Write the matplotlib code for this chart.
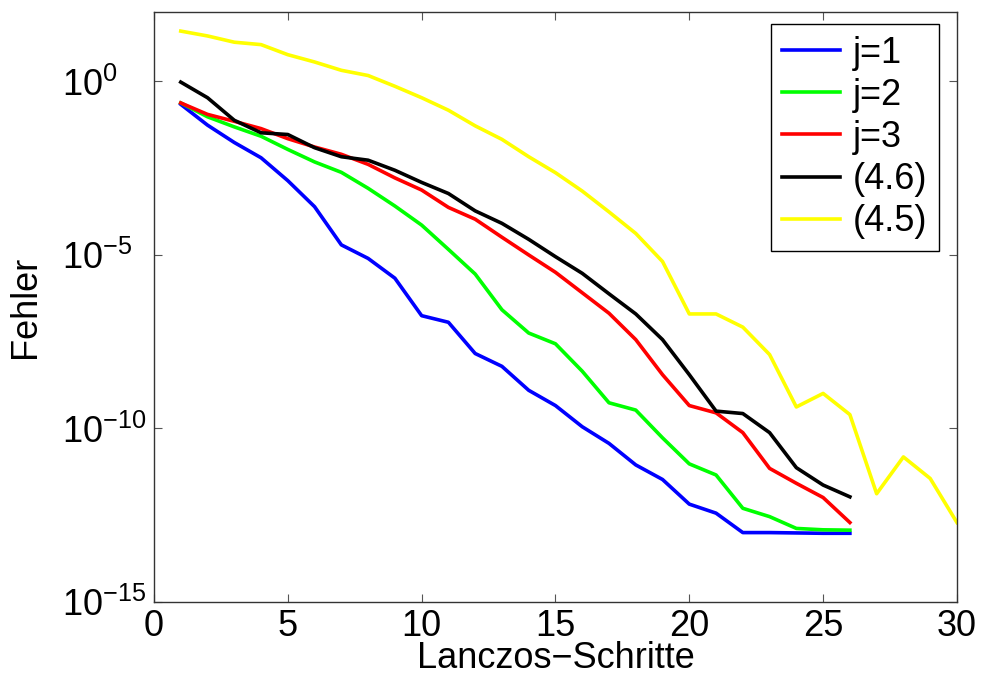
import matplotlib
matplotlib.use("Agg")
import matplotlib.pyplot as plt
import numpy as np
from matplotlib.ticker import LogFormatterMathtext, FixedLocator, NullLocator

plt.rcParams["font.family"] = ["Liberation Sans", "DejaVu Sans"]
plt.rcParams["mathtext.fontset"] = "custom"
plt.rcParams["mathtext.rm"] = "Liberation Sans"
plt.rcParams["mathtext.it"] = "Liberation Sans"

# log10 of the error
steps_26 = np.arange(1, 27)
steps_30 = np.arange(1, 31)

log_j1 = [-0.66, -1.26, -1.76, -2.20, -2.86, -3.61, -4.71, -5.10, -5.67, -6.75,
          -6.94, -7.84, -8.21, -8.90, -9.34, -9.95, -10.43, -11.05, -11.47, -12.18,
          -12.44, -13.00, -13.00, -13.01, -13.02, -13.02]
log_j2 = [-0.62, -1.02, -1.31, -1.58, -1.96, -2.32, -2.62, -3.08, -3.59, -4.14,
          -4.84, -5.55, -6.58, -7.25, -7.56, -8.35, -9.26, -9.47, -10.27, -11.02,
          -11.34, -12.30, -12.54, -12.88, -12.92, -12.93]
log_j3 = [-0.62, -0.95, -1.15, -1.36, -1.65, -1.89, -2.10, -2.39, -2.78, -3.13,
          -3.63, -3.97, -4.49, -5.00, -5.50, -6.09, -6.68, -7.44, -8.45, -9.34,
          -9.55, -10.12, -11.15, -11.58, -11.99, -12.71]
log_46 = [-0.02, -0.47, -1.12, -1.48, -1.53, -1.91, -2.17, -2.27, -2.56, -2.91,
          -3.23, -3.73, -4.09, -4.55, -5.05, -5.53, -6.12, -6.70, -7.44, -8.45,
          -9.50, -9.57, -10.12, -11.13, -11.63, -11.97]
log_45 = [1.45, 1.31, 1.13, 1.06, 0.77, 0.56, 0.32, 0.17, -0.14, -0.47,
          -0.83, -1.28, -1.67, -2.17, -2.63, -3.16, -3.76, -4.38, -5.19, -6.70,
          -6.70, -7.08, -7.87, -9.38, -8.99, -9.60, -11.88, -10.82, -11.44, -12.71]

series = [
    (steps_26, log_j1, "#0000ff", "j=1"),
    (steps_26, log_j2, "#00ff00", "j=2"),
    (steps_26, log_j3, "#ff0000", "j=3"),
    (steps_26, log_46, "#000000", "(4.6)"),
    (steps_30, log_45, "#ffff00", "(4.5)"),
]

FS = 26


def main():
    fig = plt.figure(figsize=(9.84, 6.82), dpi=100)
    ax = fig.add_axes([0.1565, 0.1173, 0.816, 0.8651])

    for x, logs, color, label in series:
        ax.semilogy(x, 10.0 ** np.array(logs), color=color, lw=2.6, label=label)

    ax.set_xlim(0, 30)
    ax.set_ylim(1e-15, 1e2)
    ax.set_xticks(np.arange(0, 31, 5))
    ax.yaxis.set_major_locator(FixedLocator([1e-15, 1e-10, 1e-5, 1e0]))
    ax.yaxis.set_major_formatter(LogFormatterMathtext())
    ax.yaxis.set_minor_locator(NullLocator())

    ax.tick_params(direction="in", top=True, right=True, labelsize=FS,
                   length=6, width=0.8, color="#555555")
    ax.tick_params(axis="x", pad=5)
    ax.tick_params(axis="y", pad=66)
    for lbl in ax.get_yticklabels():
        lbl.set_horizontalalignment("left")
    for sp in ax.spines.values():
        sp.set_color("#333333")
        sp.set_linewidth(1.0)

    ax.set_xlabel("Lanczos\u2212Schritte", fontsize=FS, labelpad=-2)
    ax.set_ylabel("Fehler", fontsize=FS, labelpad=14)

    leg = ax.legend(loc="upper right", bbox_to_anchor=(0.9776, 0.9797),
                    borderaxespad=0, fontsize=FS, handlelength=1.6,
                    handletextpad=0.35, labelspacing=0.2, borderpad=0.32,
                    fancybox=False, framealpha=1, edgecolor="black")
    leg.get_frame().set_linewidth(1.0)

    fig.savefig("out.png", dpi=100)


if __name__ == "__main__":
    main()
